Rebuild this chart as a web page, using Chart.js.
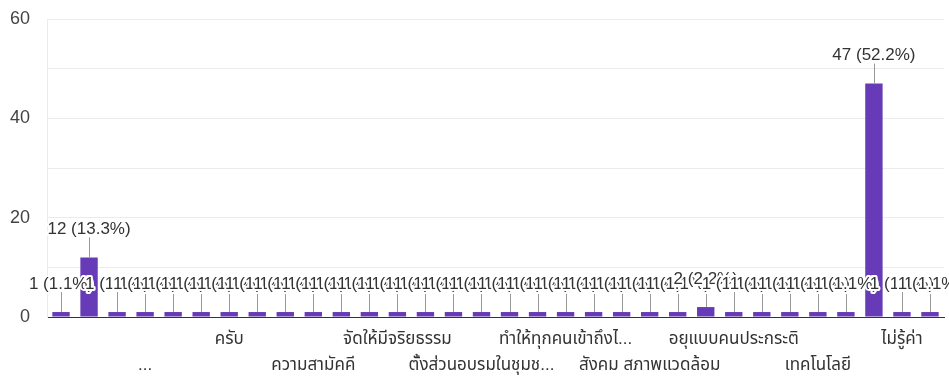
<!DOCTYPE html>
<html>
<head>
<meta charset="utf-8">
<script src="https://cdn.jsdelivr.net/npm/chart.js@4"></script>
<style>
  html, body { margin: 0; padding: 0; background: #fff; }
  #wrap { width: 949px; height: 378px; position: relative; }
</style>
</head>
<body>
<div id="wrap"><canvas id="chart"></canvas></div>
<script>
// Only some category names were drawn in the original (the rest were skipped for space).
const categories = [
  '', '', '', '...', '', '', 'ครับ', '', '', 'ความสามัคคี', '', '',
  'จัดให้มีจริยธรรม', '', '', 'ตั้งส่วนอบรมในชุมช...', '', '', 'ทำให้ทุกคนเข้าถึงไ...', '', '',
  'สังคม สภาพแวดล้อม', '', '', 'อยุแบบคนประกระติ', '', '', 'เทคโนโลยี', '', '', 'ไม่รู้ค่า', ''
];
const counts = [
  1, 12, 1, 1, 1, 1, 1, 1, 1, 1, 1, 1, 1, 1, 1, 1,
  1, 1, 1, 1, 1, 1, 1, 2, 1, 1, 1, 1, 1, 47, 1, 1
];
const yTicks = [0, 20, 40, 60];

const FONT = "'Liberation Sans', Arial, 'Noto Sans Thai', 'Noto Sans', sans-serif";
const total = counts.reduce((a, b) => a + b, 0);

// Google-Forms-style annotations: leader line + "n (p%)" with a white halo,
// drawn left to right so neighbours overlap like the original.
const annotations = {
  id: 'annotations',
  afterDatasetsDraw(chart) {
    const ctx = chart.ctx;
    const meta = chart.getDatasetMeta(0);
    ctx.save();
    ctx.strokeStyle = '#999';
    ctx.lineWidth = 1;
    meta.data.forEach((bar) => {
      const x = Math.round(bar.x) + 0.5;
      ctx.beginPath();
      ctx.moveTo(x, bar.y);
      ctx.lineTo(x, bar.y - 20);
      ctx.stroke();
    });
    ctx.font = '17px ' + FONT;
    ctx.textAlign = 'center';
    ctx.textBaseline = 'middle';
    ctx.lineJoin = 'round';
    meta.data.forEach((bar, i) => {
      const v = counts[i];
      const txt = `${v} (${(v / total * 100).toFixed(1)}%)`;
      const y = bar.y - 28;
      ctx.strokeStyle = '#fff';
      ctx.lineWidth = 4;
      ctx.strokeText(txt, bar.x, y);
      ctx.fillStyle = '#333';
      ctx.fillText(txt, bar.x, y);
    });
    ctx.restore();
  }
};

new Chart(document.getElementById('chart'), {
  type: 'bar',
  data: {
    labels: categories,
    datasets: [{
      data: counts,
      backgroundColor: '#673ab7',
      barPercentage: 0.62,
      categoryPercentage: 1
    }]
  },
  options: {
    responsive: true,
    maintainAspectRatio: false,
    animation: false,
    layout: { padding: { top: 19, right: 5, left: 0, bottom: 0 } },
    plugins: { legend: { display: false }, tooltip: { enabled: false } },
    scales: {
      x: {
        grid: { display: false, drawTicks: false },
        border: { color: '#333', width: 1 },
        afterFit: (s) => { s.height = 61; },
        ticks: {
          autoSkip: false,
          maxRotation: 0,
          minRotation: 0,
          padding: 9,
          color: '#333',
          font: { family: FONT, size: 17, lineHeight: 1.55 },
          callback: (v, i) => {
            const t = categories[i];
            if (!t) return '';
            return i % 6 === 0 ? t : ['', t];
          }
        }
      },
      y: {
        min: 0,
        max: 60,
        afterFit: (s) => {
          s.width = 47;
          s.paddingTop = 0;
          s.paddingBottom = 0;
        },
        grid: {
          drawTicks: false,
          color: (c) => (c.tick && c.tick.value === 0 ? '#333' : '#ebebeb')
        },
        border: { color: '#ebebeb' },
        ticks: {
          stepSize: 10,
          padding: 17,
          color: '#444',
          font: { family: FONT, size: 18 },
          callback: (v) => (yTicks.includes(v) ? v : '')
        }
      }
    }
  },
  plugins: [annotations]
});
</script>
</body>
</html>
